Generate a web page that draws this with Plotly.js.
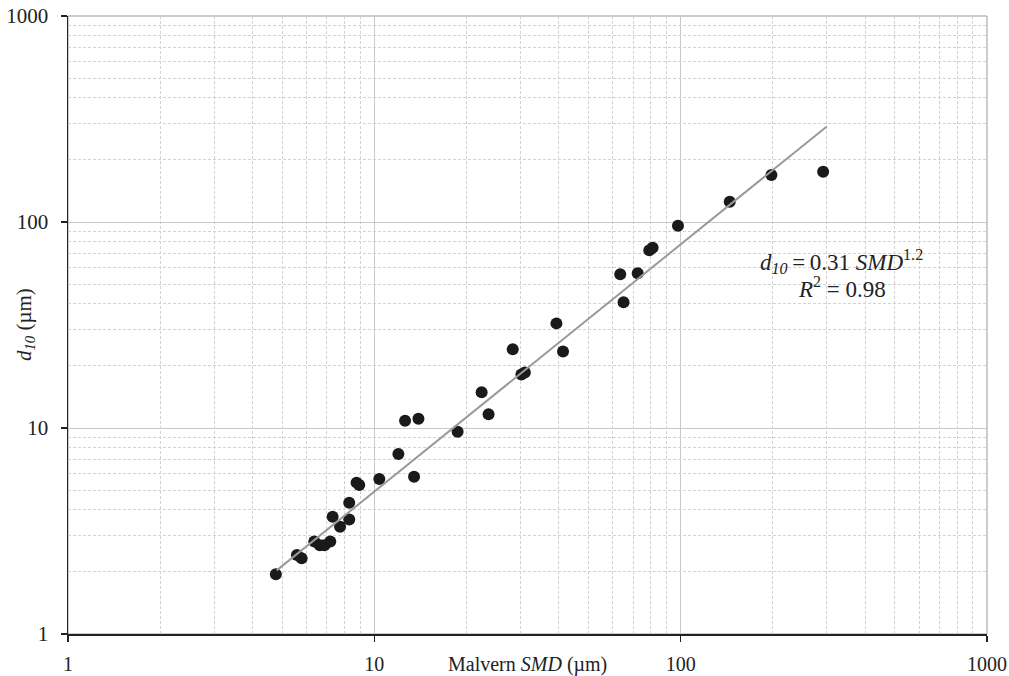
<!DOCTYPE html>
<html><head><meta charset="utf-8">
<script src="https://cdn.plot.ly/plotly-3.0.1.min.js"></script>
<style>body{margin:0;background:#fff}</style>
</head><body><div id="chart" style="width:1009px;height:676px"></div>
<script>
// Malvern SMD (µm) and d10 (µm) measurements
const smd = [4.77, 5.59, 5.79, 6.37, 6.64, 6.87, 7.18, 7.31, 7.73, 8.28, 8.28, 8.75, 8.93, 10.38, 11.98, 13.48, 12.6, 13.93, 18.7, 22.4, 23.6, 28.3, 30.2, 31.0, 39.3, 41.3, 63.5, 72.4, 65.1, 79, 81, 98, 144.6, 197.8, 291.8];
const d10 = [1.95, 2.42, 2.33, 2.81, 2.70, 2.70, 2.81, 3.71, 3.32, 3.60, 4.34, 5.43, 5.29, 5.66, 7.48, 5.80, 10.85, 11.1, 9.6, 14.9, 11.65, 24.1, 18.2, 18.6, 32.2, 23.5, 55.7, 56.4, 40.8, 73, 75, 96, 125.5, 169, 175.5];
// Power-law fit d10 = a * SMD^b
const fitCoef = 0.31;
const fitExp = 1.2;
const fitSmd = [4.8, 300];
const fitD10 = fitSmd.map(x => fitCoef * Math.pow(x, fitExp));
const tickVals = [1, 10, 100, 1000];
const tickText = ['1', '10', '100', '1000'];

const serif = '"Liberation Serif", "Times New Roman", serif';
const ink = '#222';

const traces = [
  {x: smd, y: d10, type: 'scatter', mode: 'markers',
   marker: {color: '#1a1a1a', size: 12}, hoverinfo: 'x+y'},
  {x: fitSmd, y: fitD10, type: 'scatter', mode: 'lines',
   line: {color: '#9a9a9a', width: 2}, hoverinfo: 'skip'}
];

const axisCommon = {
  type: 'log', tickmode: 'array', tickvals: tickVals, ticktext: tickText,
  showgrid: true, gridcolor: '#c8c8c8', gridwidth: 1,
  showline: true, linecolor: ink, linewidth: 1.5,
  ticks: 'outside', ticklen: 6, tickcolor: ink, tickwidth: 1.5,
  tickfont: {family: serif, size: 21, color: ink},
  zeroline: false,
  minor: {dtick: 'D1', showgrid: true, gridcolor: '#d2d2d2', gridwidth: 1, griddash: '3px,2px', ticks: ''}
};

const layout = {
  width: 1009, height: 676,
  margin: {l: 68, r: 22, t: 16, b: 42},
  paper_bgcolor: '#fff', plot_bgcolor: '#fff',
  showlegend: false,
  font: {family: serif, color: ink},
  xaxis: Object.assign({}, axisCommon, {range: [0, 3], ticklabelstandoff: 5,
    tickfont: {family: serif, size: 20, color: ink}}),
  yaxis: Object.assign({}, axisCommon, {range: [0, 3], ticklabelstandoff: 8}),
  shapes: [{type: 'rect', xref: 'paper', yref: 'paper', x0: 0, x1: 1, y0: 0, y1: 1,
            line: {color: '#9a9a9a', width: 1}, layer: 'below'}],
  annotations: [
    {xref: 'paper', yref: 'paper', x: 0.5, y: 0, xanchor: 'center', yanchor: 'top', yshift: -17, showarrow: false,
     text: 'Malvern <i>SMD</i> (µm)', font: {family: serif, size: 20, color: ink}},
    {xref: 'paper', yref: 'paper', x: 0, y: 0.5, xanchor: 'center', yanchor: 'middle', xshift: -43, textangle: -90, showarrow: false,
     text: '<i>d</i><sub><i>10</i></sub> (µm)', font: {family: serif, size: 21, color: ink}},
    {xref: 'paper', yref: 'paper', x: 0.842, y: 0.603, xanchor: 'center', yanchor: 'middle', showarrow: false,
     text: '<i>d</i><sub><i>10</i></sub>\u2009=\u20090.31 <i>SMD</i><sup>1.2</sup>', font: {family: serif, size: 23, color: ink}},
    {xref: 'paper', yref: 'paper', x: 0.842, y: 0.560, xanchor: 'center', yanchor: 'middle', showarrow: false,
     text: '<i>R</i><sup>2</sup> = 0.98', font: {family: serif, size: 23, color: ink}}
  ]
};

Plotly.newPlot('chart', traces, layout, {displayModeBar: false, staticPlot: true});
</script>
</body></html>
